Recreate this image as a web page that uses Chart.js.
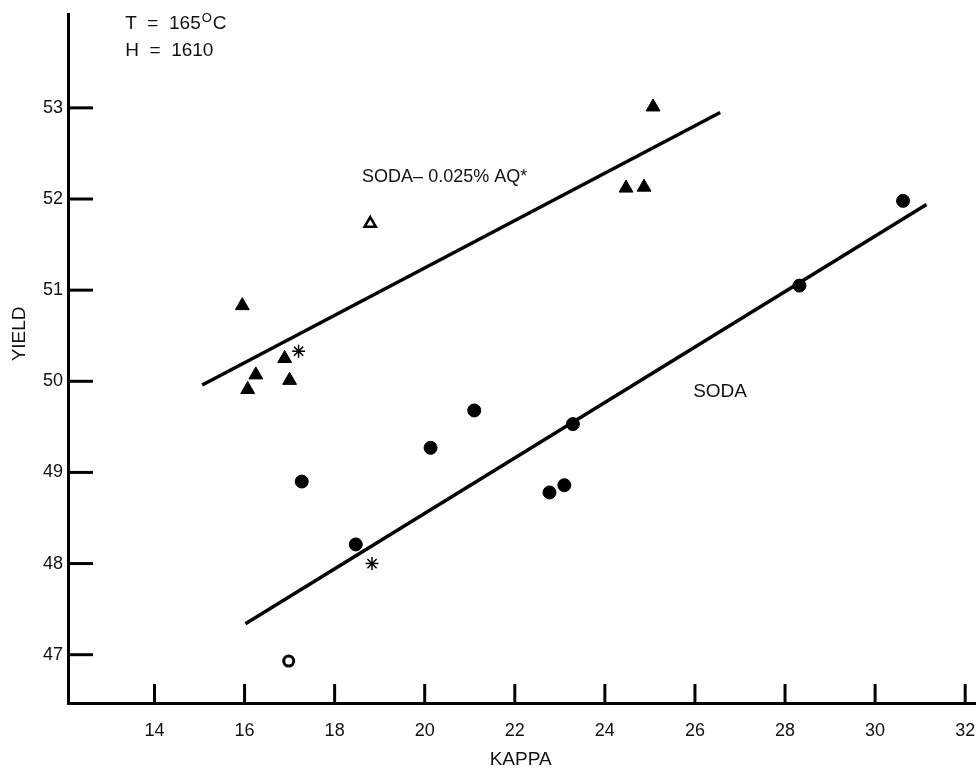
<!DOCTYPE html>
<html>
<head>
<meta charset="utf-8">
<script src="https://cdn.jsdelivr.net/npm/chart.js@4.4.1/dist/chart.umd.min.js"></script>
<style>
html,body{margin:0;padding:0;background:#fff;overflow:hidden;}
#wrap{width:976px;height:773px;position:relative;}
canvas{display:block;}
</style>
</head>
<body>
<div id="wrap"><canvas id="c" width="976" height="773"></canvas></div>
<script>
// ---- data ----
const kappaTicks = [14, 16, 18, 20, 22, 24, 26, 28, 30, 32];
const yieldTicks = [47, 48, 49, 50, 51, 52, 53];

// SODA-0.025% AQ (filled triangles)
const aqKappa = [15.95, 16.89, 16.25, 16.07, 17.0, 24.47, 24.87, 25.07];
const aqYield = [50.83, 50.25, 50.07, 49.91, 50.01, 52.12, 52.13, 53.01];
// open triangle
const aqOpenKappa = [18.79];
const aqOpenYield = [51.73];

// SODA (filled circles)
const sodaKappa = [17.27, 18.47, 20.13, 21.1, 22.77, 23.10, 23.29, 28.32, 30.62];
const sodaYield = [48.9, 48.21, 49.27, 49.68, 48.78, 48.86, 49.53, 51.05, 51.98];
// open circle
const sodaOpenKappa = [16.98];
const sodaOpenYield = [46.93];

// asterisk marks
const starKappa = [17.2, 18.83];
const starYield = [50.33, 48.0];

// fitted lines (end points)
const aqLineKappa = [15.06, 26.56];
const aqLineYield = [49.96, 52.95];
const sodaLineKappa = [16.02, 31.14];
const sodaLineYield = [47.34, 51.94];

const FONT = "'Liberation Sans', Arial, Helvetica, sans-serif";
const pts = (xs, ys) => xs.map((x, i) => ({x: x, y: ys[i]}));

const insideTicks = {
  id: 'insideTicks',
  afterDraw(chart) {
    const ctx = chart.ctx, xs = chart.scales.x, ys = chart.scales.y, a = chart.chartArea;
    ctx.save();
    ctx.strokeStyle = '#000';
    ctx.lineWidth = 3;
    ctx.lineCap = 'butt';
    kappaTicks.forEach(v => {
      const px = xs.getPixelForValue(v);
      ctx.beginPath(); ctx.moveTo(px, a.bottom); ctx.lineTo(px, a.bottom - 19); ctx.stroke();
    });
    yieldTicks.forEach(v => {
      const py = ys.getPixelForValue(v);
      ctx.beginPath(); ctx.moveTo(a.left, py); ctx.lineTo(a.left + 25, py); ctx.stroke();
    });
    // annotations
    ctx.fillStyle = '#111';
    ctx.textBaseline = 'alphabetic';
    ctx.textAlign = 'left';
    ctx.font = '19px ' + FONT;
    let x0 = xs.getPixelForValue(13.35), y0 = ys.getPixelForValue(53.86);
    let s = 'T  =  165';
    ctx.fillText(s, x0, y0);
    let w = ctx.measureText(s).width;
    ctx.font = '13px ' + FONT;
    ctx.fillText('O', x0 + w + 1, y0 - 7);
    let w2 = ctx.measureText('O').width;
    ctx.font = '19px ' + FONT;
    ctx.fillText('C', x0 + w + w2 + 2, y0);
    ctx.fillText('H  =  1610', x0, ys.getPixelForValue(53.57));
    ctx.font = '18px ' + FONT;
    ctx.fillText('SODA\u2013 0.025% AQ*', xs.getPixelForValue(18.61), ys.getPixelForValue(52.19));
    ctx.font = '19px ' + FONT;
    ctx.fillText('SODA', xs.getPixelForValue(25.96), ys.getPixelForValue(49.83));
    // axis titles
    ctx.font = '19px ' + FONT;
    ctx.textAlign = 'center';
    ctx.fillText('KAPPA', xs.getPixelForValue(22.13), a.bottom + 62);
    ctx.save();
    ctx.translate(25, ys.getPixelForValue(50.52));
    ctx.rotate(-Math.PI / 2);
    ctx.fillText('YIELD', 0, 0);
    ctx.restore();
    ctx.restore();
  }
};

new Chart(document.getElementById('c'), {
  type: 'scatter',
  data: {
    datasets: [
      {label: 'AQ line', data: pts(aqLineKappa, aqLineYield), showLine: true, borderColor: '#000', borderWidth: 3.5, pointRadius: 0, fill: false},
      {label: 'SODA line', data: pts(sodaLineKappa, sodaLineYield), showLine: true, borderColor: '#000', borderWidth: 3.5, pointRadius: 0, fill: false},
      {label: 'SODA-0.025% AQ', data: pts(aqKappa, aqYield), pointStyle: 'triangle', pointRadius: 8, backgroundColor: '#000', borderColor: '#000', borderWidth: 1},
      {label: 'AQ open', data: pts(aqOpenKappa, aqOpenYield), pointStyle: 'triangle', pointRadius: 6.5, backgroundColor: '#fff', borderColor: '#000', borderWidth: 2.5},
      {label: 'SODA', data: pts(sodaKappa, sodaYield), pointStyle: 'circle', pointRadius: 6.5, backgroundColor: '#000', borderColor: '#000', borderWidth: 1},
      {label: 'SODA open', data: pts(sodaOpenKappa, sodaOpenYield), pointStyle: 'circle', pointRadius: 5, backgroundColor: '#fff', borderColor: '#000', borderWidth: 3},
      {label: 'star', data: pts(starKappa, starYield), pointStyle: 'star', pointRadius: 6.5, backgroundColor: '#000', borderColor: '#000', borderWidth: 1.5}
    ]
  },
  options: {
    responsive: false,
    animation: false,
    devicePixelRatio: 1,
    layout: {autoPadding: false, padding: {top: 14, right: 0, left: 0, bottom: 0}},
    plugins: {legend: {display: false}, tooltip: {enabled: false}},
    scales: {
      x: {
        type: 'linear', min: 12.08, max: 32.24,
        afterBuildTicks: s => { s.ticks = kappaTicks.map(v => ({value: v})); },
        afterFit: s => { s.height = 70; s.paddingLeft = 0; s.paddingRight = 0; },
        grid: {display: false, drawTicks: false},
        border: {display: true, color: '#000', width: 3},
        ticks: {padding: 17, color: '#111', font: {family: FONT, size: 18}, maxRotation: 0, autoSkip: false}
      },
      y: {
        type: 'linear', min: 46.47, max: 54.03,
        afterBuildTicks: s => { s.ticks = yieldTicks.map(v => ({value: v})); },
        afterFit: s => { s.width = 68; s.paddingTop = 0; s.paddingBottom = 0; },
        grid: {display: false, drawTicks: false},
        border: {display: true, color: '#000', width: 3},
        ticks: {padding: 5, color: '#111', font: {family: FONT, size: 18}, autoSkip: false}
      }
    }
  },
  plugins: [insideTicks]
});
</script>
</body>
</html>
